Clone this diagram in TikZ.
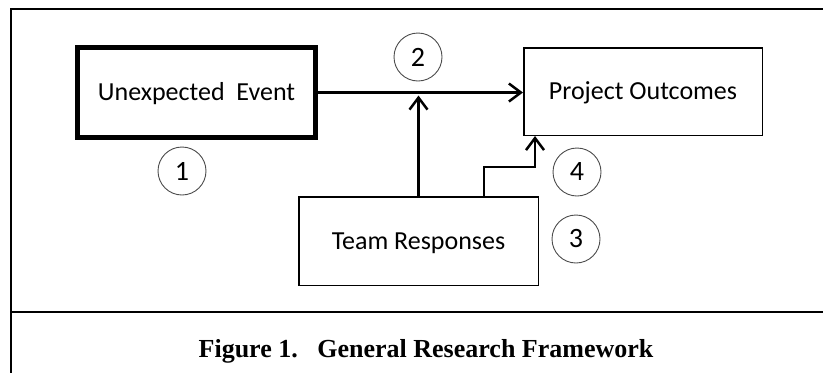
\documentclass[tikz,border=0pt]{standalone}
\usepackage{fontspec}
\setmainfont{Liberation Serif}
\newfontfamily\boxfont{Carlito}
\usetikzlibrary{arrows.meta,positioning}

\begin{document}
\begin{tikzpicture}
	[
	x=1pt, y=-1pt, font=\boxfont\fontsize{26}{30}\selectfont,
	>={Straight Barb[length=12pt,width=18pt]}
	%Voreinstellung für Pfeilspitzen
	]
	\tikzset{
		kasten/.style={draw, line width=1.5pt, inner sep=0pt, text height=20pt, text depth=4pt},
		nummer/.style={draw, circle, gray!60!black, text=black, line width=0.9pt, minimum size=48pt, inner sep=0pt, font=\boxfont\fontsize{28}{32}\selectfont},
		pfeil/.style={->, line width=2.5pt}
	}
	
	\useasboundingbox (0,0) rectangle (823,373);
	
	%Rahmen
	\draw[line width=2pt] (823,9) -- (11,9) -- (11,373);
	\draw[line width=2pt] (11,312) -- (823,312);
	
	%Kästen
	\node[kasten, line width=5pt, minimum width=238pt, minimum height=90pt] (event) at (196.5,92.5) {Unexpected\ \ Event};
	\node[kasten, minimum width=238.5pt, minimum height=87.5pt] (outcomes) at (643,91.5) {Project Outcomes};
	\node[kasten, minimum width=239.5pt, minimum height=88.5pt] (team) at (418.5,241) {Team Responses};
	
	%Nummern
	\node[nummer] (eins) at (182,171) {1};
	\node[nummer] (zwei) at (418,57) {2};
	\node[nummer] (drei) at (576,239) {3};
	\node[nummer] (vier) at (577,172) {4};
	
	%Pfeile
	\draw[pfeil] (event.east) -- (event.east -| outcomes.west);
	\draw[pfeil, shorten >=3pt] (team.north) -- (team.north |- event.east);
	\coordinate (stufe) at (484,167);
	\draw[pfeil] (team.north -| stufe) -- (stufe) -| ([xshift=12pt]outcomes.south west);
	
	%Bildunterschrift
	\node[anchor=base, font=\bfseries\fontsize{26}{30}\selectfont] (titel) at (426,357) {Figure 1.\ \ \ General Research Framework};
\end{tikzpicture}
\end{document}
